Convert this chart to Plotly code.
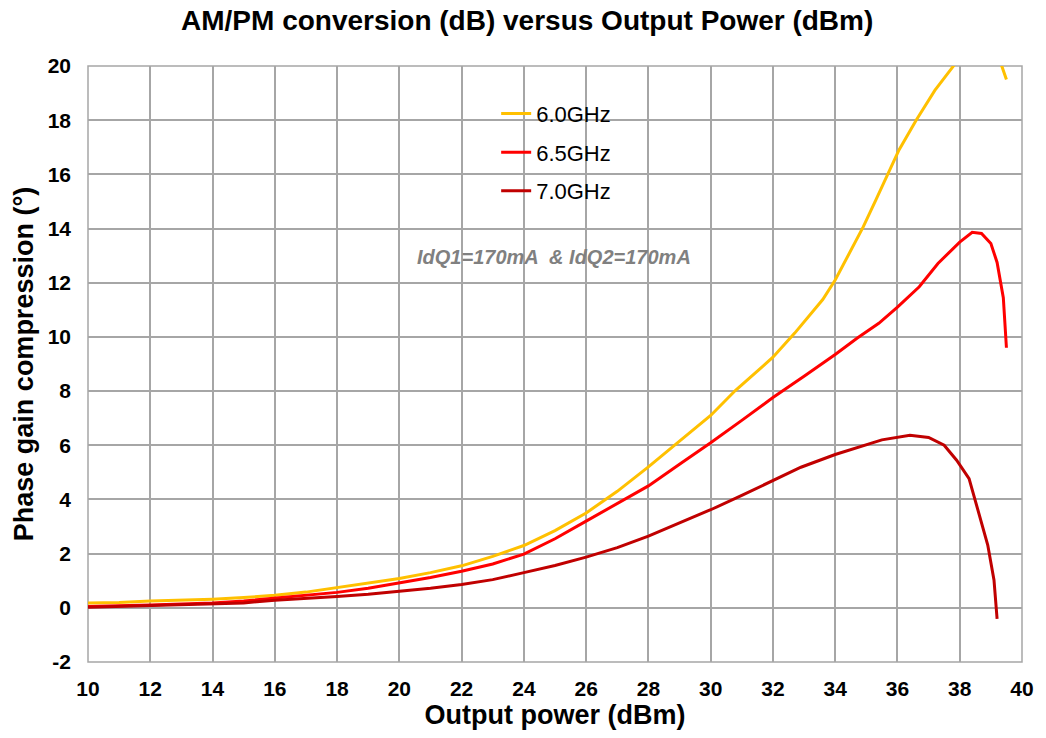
import plotly.graph_objects as go

# 6.0 GHz
x60 = [10, 11, 12, 13, 14, 15, 16, 17, 18, 19, 20, 21, 22, 23, 24, 25, 26, 27, 28, 29, 30, 30.8, 32, 32.7, 33.6, 34.0, 34.45, 34.9, 35.3, 35.7, 36.05, 36.6, 37.2, 37.8, 38.3, 38.8, 39.2, 39.5]
y60 = [0.18, 0.2, 0.25, 0.28, 0.32, 0.38, 0.46, 0.58, 0.75, 0.92, 1.08, 1.3, 1.55, 1.9, 2.3, 2.85, 3.5, 4.3, 5.2, 6.15, 7.1, 8.03, 9.25, 10.14, 11.38, 12.1, 13.08, 14.06, 15.04, 16.02, 16.9, 18.0, 19.1, 20.0, 20.9, 21.2, 20.5, 19.5]

# 6.5 GHz
x65 = [10, 11, 12, 13, 14, 15, 16, 17, 18, 19, 20, 21, 22, 23, 24, 25, 26, 27, 28, 29, 30, 31, 32, 33, 34, 34.7, 35.4, 36.0, 36.7, 37.3, 38.0, 38.4, 38.7, 39.0, 39.2, 39.4, 39.5]
y65 = [0.05, 0.07, 0.1, 0.14, 0.18, 0.25, 0.35, 0.45, 0.57, 0.72, 0.92, 1.12, 1.35, 1.62, 1.98, 2.55, 3.2, 3.85, 4.5, 5.3, 6.09, 6.92, 7.76, 8.55, 9.35, 9.95, 10.5, 11.1, 11.85, 12.71, 13.5, 13.86, 13.82, 13.45, 12.75, 11.45, 9.6]

# 7.0 GHz
x70 = [10, 11, 12, 13, 14, 15, 16, 17, 18, 19, 20, 21, 22, 23, 24, 25, 26, 27, 28, 29, 30, 31, 32, 32.9, 34, 35.5, 36.4, 37.0, 37.5, 37.9, 38.3, 38.5, 38.9, 39.1, 39.2]
y70 = [0.02, 0.05, 0.07, 0.11, 0.15, 0.18, 0.28, 0.34, 0.42, 0.5, 0.6, 0.72, 0.86, 1.04, 1.3, 1.56, 1.87, 2.22, 2.65, 3.12, 3.62, 4.15, 4.7, 5.19, 5.66, 6.2, 6.37, 6.29, 6.0, 5.45, 4.77, 3.98, 2.32, 1.03, -0.41]

x_ticks = [10, 12, 14, 16, 18, 20, 22, 24, 26, 28, 30, 32, 34, 36, 38, 40]
y_ticks = [-2, 0, 2, 4, 6, 8, 10, 12, 14, 16, 18, 20]

fig = go.Figure()
series = [("6.0GHz", x60, y60, "#FFC000"), ("6.5GHz", x65, y65, "#FF0000"), ("7.0GHz", x70, y70, "#C00000")]
for name, xs, ys, col in series:
    fig.add_trace(go.Scatter(x=xs, y=ys, mode="lines", name=name, legendgroup=name,
                             line=dict(color=col, width=3)))

FONT = "Liberation Sans, Arial"
fig.update_layout(
    width=1046, height=738,
    margin=dict(l=88, r=19, t=66, b=76),
    paper_bgcolor="white", plot_bgcolor="white",
    font=dict(family=FONT, color="black"),
    title=dict(text="<b>AM/PM conversion (dB) versus Output Power (dBm)</b>", x=0.504, xanchor="center",
               y=0.972, yanchor="middle", font=dict(size=28, color="black", family=FONT)),
    showlegend=True,
    legend=dict(x=0.437, y=0.955, xanchor="left", yanchor="top", bgcolor="rgba(0,0,0,0)",
                font=dict(size=22, color="black", family=FONT), tracegroupgap=7),
    xaxis=dict(range=[10, 40], tickvals=x_ticks, ticktext=["<b>%d</b>" % v for v in x_ticks],
               showgrid=True, gridcolor="#A6A6A6", gridwidth=1.5,
               showline=False, zeroline=False, ticks="", ticklabelstandoff=12,
               tickfont=dict(size=21, family=FONT, color="black"),
               title=dict(text="<b>Output power (dBm)</b>", font=dict(size=27, family=FONT), standoff=2)),
    yaxis=dict(range=[-2, 20], tickvals=y_ticks, ticktext=["<b>%d</b>" % v for v in y_ticks],
               showgrid=True, gridcolor="#A6A6A6", gridwidth=1.5,
               showline=False, zeroline=False, ticks="", ticklabelstandoff=16,
               tickfont=dict(size=21, family=FONT, color="black"),
               title=dict(text="<b>Phase gain compression (°)</b>", font=dict(size=27, family=FONT), standoff=6)),
)
fig.add_shape(type="rect", xref="paper", yref="paper", x0=0, y0=0, x1=1, y1=1,
              line=dict(color="#A6A6A6", width=1.5), layer="below")
fig.add_annotation(text="<b><i>IdQ1=170mA  & IdQ2=170mA</i></b>", x=24.98, y=12.94, xref="x", yref="y",
                   showarrow=False, font=dict(size=20, color="#808080", family=FONT))
fig.write_html("out.html")
